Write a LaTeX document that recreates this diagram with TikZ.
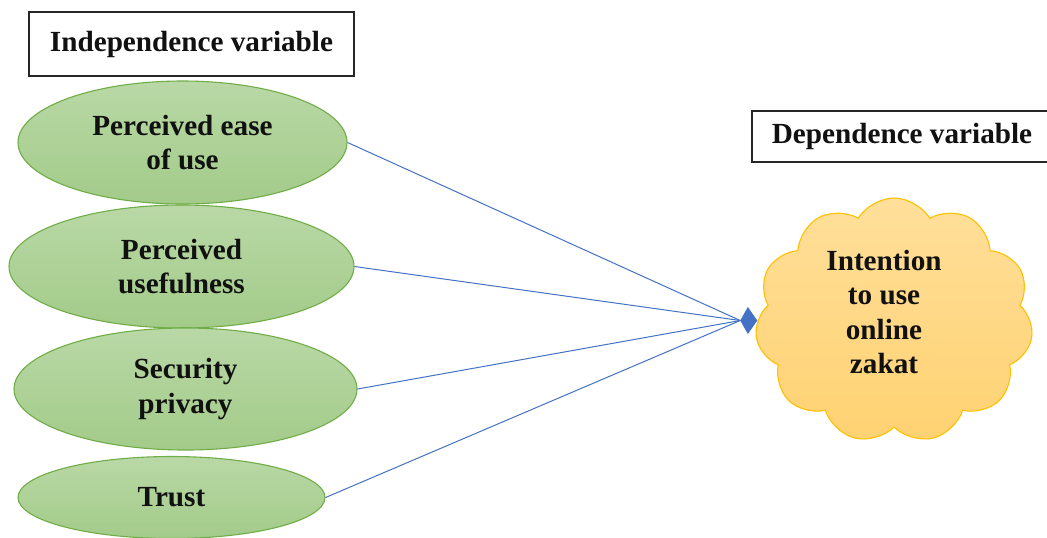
\documentclass[tikz,border=0pt]{standalone}
\usepackage{fontspec}
\setmainfont{Liberation Serif}
\usetikzlibrary{arrows.meta,shapes.geometric,shapes.symbols}
\definecolor{fwGreen}{HTML}{70AD47}
\definecolor{fwGreenTop}{HTML}{B9D8A6}
\definecolor{fwGreenBot}{HTML}{A3CB89}
\definecolor{fwGold}{HTML}{FFC000}
\definecolor{fwGoldTop}{HTML}{FFDF9A}
\definecolor{fwGoldBot}{HTML}{FFD272}
\definecolor{fwBlue}{HTML}{4472C4}
\definecolor{fwInk}{HTML}{111111}
\tikzset{
  fw text/.style={font=\fontsize{14.6}{17.2}\selectfont\bfseries, text=fwInk, align=center},
  fw box/.style={fw text, draw=black!85, line width=0.7pt, inner sep=0pt},
  fw factor/.style={fw text, ellipse, draw=fwGreen, line width=0.55pt, top color=fwGreenTop, bottom color=fwGreenBot, inner sep=0pt},
  fw goal/.style={cloud, cloud puffs=11, cloud puff arc=118, draw=fwGold, line width=0.55pt, top color=fwGoldTop, bottom color=fwGoldBot, inner sep=0pt},
  fw link/.style={draw=fwBlue, line width=0.5pt},
  fw tip/.style={fw link, -{Kite[length=8.5pt,width=13.5pt,inset=3.8pt]}},
}

\begin{document}
\begin{tikzpicture}[x=0.5pt,y=-0.5pt]
  \clip (0,0) rectangle (1047,537);
  \fill[white] (0,0) rectangle (1047,537);
  % labels
  \node[fw box,minimum width=162.5pt,minimum height=32pt] (indep) at (191.5,44) {Independence variable};
  \node[fw box,minimum width=150pt,minimum height=25.5pt] (dep) at (902,136.5) {Dependence variable};
  % factors
  \node[fw factor,minimum width=164.5pt,minimum height=61.5pt] (ease) at (182.5,142.5) {Perceived ease\\of use};
  \node[fw factor,minimum width=172.5pt,minimum height=61.5pt] (useful) at (181.5,266.5) {Perceived\\usefulness};
  \node[fw factor,minimum width=171.5pt,minimum height=61pt] (secure) at (185.5,389) {Security\\privacy};
  \node[fw factor,minimum width=153.5pt,minimum height=41pt] (trust) at (171.5,497.5) {Trust};
  % outcome
  \node[fw goal,minimum width=139pt,minimum height=122.5pt] (goal) at (894,320.5) {};
  \node[fw text] (goaltxt) at (884,312) {Intention\\to use\\online\\zakat};
  \coordinate (goalin) at ([xshift=-8.5pt]goal.west);
  \foreach \f in {ease,useful,secure,trust}{\draw[fw link] (\f.east) -- (goalin);}
  \draw[fw tip] (goalin) -- (goal.west);
\end{tikzpicture}
\end{document}
